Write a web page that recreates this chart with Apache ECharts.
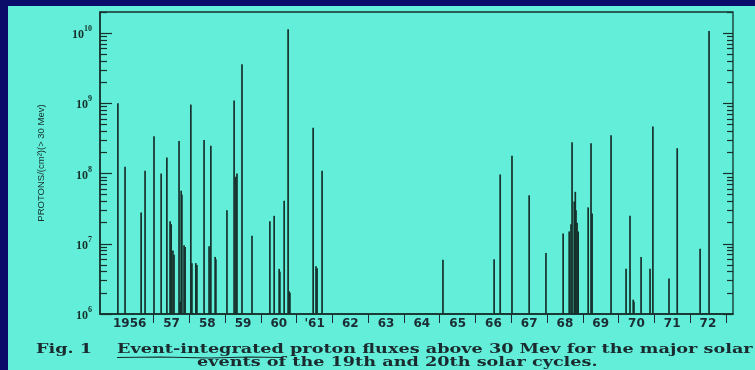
<!DOCTYPE html>
<html>
<head>
<meta charset="utf-8">
<script src="https://cdn.jsdelivr.net/npm/echarts@6/dist/echarts.min.js"></script>
<style>
  html, body { margin: 0; padding: 0; background: #0b0b6a; }
  #chart { width: 755px; height: 370px; }
</style>
</head>
<body>
<div id="chart"></div>
<script>
// Major solar proton events, cycles 19 and 20: date (decimal year) and
// event-integrated proton flux above 30 MeV (protons / cm^2).
const eventYears = [
  1956.00, 1956.20, 1956.65, 1956.76, 1957.01, 1957.21, 1957.37, 1957.46, 1957.49,
  1957.54, 1957.57, 1957.71, 1957.74, 1957.77, 1957.79, 1957.85, 1957.88,
  1958.04, 1958.07, 1958.18, 1958.21, 1958.41, 1958.55, 1958.60, 1958.72, 1958.74,
  1959.05, 1959.25, 1959.30, 1959.33, 1959.47, 1959.75,
  1960.25, 1960.37, 1960.51, 1960.53, 1960.65, 1960.76, 1960.79, 1960.81,
  1961.46, 1961.54, 1961.57, 1961.71,
  1965.09,
  1966.52, 1966.69, 1967.02, 1967.50, 1967.97,
  1968.45, 1968.62, 1968.67, 1968.70, 1968.76, 1968.79, 1968.81, 1968.84, 1968.87,
  1969.15, 1969.23, 1969.26, 1969.79,
  1970.21, 1970.32, 1970.41, 1970.43, 1970.63, 1970.88, 1970.96,
  1971.41, 1971.64, 1972.28, 1972.53
];
const protonFlux = [
  1.0e9, 1.25e8, 2.8e7, 1.1e8, 3.4e8, 1.0e8, 1.7e8, 2.1e7, 1.9e7,
  8.0e6, 7.0e6, 2.9e8, 1.5e6, 5.7e7, 5.0e7, 9.5e6, 9.0e6,
  9.6e8, 5.3e6, 5.3e6, 5.0e6, 3.0e8, 9.2e6, 2.5e8, 6.5e6, 6.0e6,
  3.0e7, 1.1e9, 9.0e7, 1.0e8, 3.6e9, 1.3e7,
  2.1e7, 2.5e7, 4.4e6, 4.0e6, 4.1e7, 1.14e10, 2.1e6, 2.0e6,
  4.5e8, 4.8e6, 4.5e6, 1.1e8,
  5.9e6,
  6.0e6, 9.7e7, 1.8e8, 4.9e7, 7.4e6,
  1.4e7, 1.5e7, 1.9e7, 2.8e8, 4.0e7, 5.5e7, 3.0e7, 2.0e7, 1.5e7,
  3.3e7, 2.7e8, 2.7e7, 3.5e8,
  4.4e6, 2.5e7, 1.6e6, 1.5e6, 6.5e6, 4.4e6, 4.7e8,
  3.2e6, 2.3e8, 8.5e6, 1.07e10
];

// Year axis: labels sit mid-year, a short bar separates consecutive years.
const yearTicks  = [1956, 1957, 1958, 1959, 1960, 1961, 1962, 1963, 1964,
                    1965, 1966, 1967, 1968, 1969, 1970, 1971, 1972];
const yearLabels = ['1956', '57', '58', '59', '60', "'61", '62', '63', '64',
                    '65', '66', '67', '68', '69', '70', '71', '72'];

// Flux axis: decades labelled as powers of ten.
const decadeTicks     = [1e6, 1e7, 1e8, 1e9, 1e10];
const decadeExponents = ['6', '7', '8', '9', '10'];

const FLUX_MIN = 1e6, FLUX_MAX = 2e10;
const YEAR_MIN = 1955.5, YEAR_MAX = 1973.2;

const INK = '#16302b';
const TEXT_INK = '#1a2a2e';
const PANEL = '#62eed9';

// minor log ticks 2..9 within each decade
const minorTicks = [];
decadeTicks.forEach(d => {
  for (let k = 2; k <= 9; k++) if (d * k <= FLUX_MAX) minorTicks.push(d * k);
});

// the wide four-digit first label is pulled left so it clears the first separator
const yearLabelValues = yearTicks.map((y, i) => y + (i === 0 ? 0.33 : 0.5));
const yearSeparators = yearTicks.slice(1).concat([yearTicks[yearTicks.length - 1] + 1]);

function logAxis(position, ticks, tickLen, withLabels) {
  return {
    type: 'log', logBase: 10, min: FLUX_MIN, max: FLUX_MAX, position: position,
    axisLine: { show: withLabels, lineStyle: { color: INK, width: 1.5 } },
    splitLine: { show: false },
    axisTick: { show: true, inside: true, length: tickLen, customValues: ticks,
                lineStyle: { color: INK, width: 1.2 } },
    axisLabel: withLabels && position === 'left' ? {
      show: true, customValues: decadeTicks, margin: 8,
      showMinLabel: true, showMaxLabel: true,
      formatter: v => {
        const i = decadeTicks.findIndex(d => Math.abs(d - v) / d < 1e-6);
        return i < 0 ? '' : '{b|10}{s|' + decadeExponents[i] + '}';
      },
      rich: {
        b: { fontFamily: 'Liberation Serif', fontWeight: 'bold', fontSize: 12, color: INK,
             lineHeight: 16, verticalAlign: 'bottom' },
        s: { fontFamily: 'Liberation Serif', fontWeight: 'bold', fontSize: 8, color: INK,
             lineHeight: 16, verticalAlign: 'top' }
      }
    } : { show: false },
    name: withLabels && position === 'left' ? 'PROTONS/(cm²)(> 30 Mev)' : '',
    nameLocation: 'middle', nameGap: 54, nameRotate: 90,
    nameTextStyle: { fontFamily: 'Liberation Sans', fontSize: 9.5, color: INK }
  };
}

// caption text is set in a wide bold serif
function captionText(left, top, text) {
  return { type: 'text', x: left, y: top, scaleX: 1.47,
           style: { text: text, fontFamily: 'DejaVu Serif', fontWeight: 'bold',
                    fontSize: 12, fill: TEXT_INK } };
}

const chart = echarts.init(document.getElementById('chart'), null, { renderer: 'canvas' });

chart.setOption({
  backgroundColor: '#0b0b6a',
  animation: false,
  graphic: [
    { type: 'rect', z: -10, shape: { x: 8, y: 6, width: 747, height: 364 },
      style: { fill: PANEL } },
    captionText(36, 344, 'Fig. 1'),
    captionText(117, 344, 'Event-integrated proton fluxes above 30 Mev for the major solar'),
    captionText(197, 357, 'events of the 19th and 20th solar cycles.'),
    { type: 'polyline',
      shape: { points: [[117, 357.5], [160, 357], [210, 358], [250, 357], [282, 357.5]] },
      style: { stroke: TEXT_INK, lineWidth: 1.2, fill: null } }
  ],
  grid: { left: 100, right: 22, top: 12, bottom: 56, show: true,
          borderColor: INK, borderWidth: 1.3, backgroundColor: 'transparent' },
  xAxis: {
    type: 'value', min: YEAR_MIN, max: YEAR_MAX,
    splitLine: { show: false },
    axisLine: { show: true, lineStyle: { color: INK, width: 1.5 } },
    axisTick: { show: true, inside: false, length: 9, customValues: yearSeparators,
                lineStyle: { color: '#1c2c34', width: 1 } },
    axisLabel: {
      customValues: yearLabelValues, margin: 4,
      showMinLabel: true, showMaxLabel: true,
      formatter: v => {
        const i = yearLabelValues.findIndex(p => Math.abs(p - v) < 1e-6);
        return i < 0 ? '' : yearLabels[i];
      },
      fontFamily: 'DejaVu Sans', fontWeight: 'bold', fontSize: 12, color: '#1c2c34'
    }
  },
  yAxis: [
    logAxis('left', decadeTicks, 12, true),
    logAxis('left', minorTicks, 7, false),
    logAxis('right', decadeTicks, 10, false),
    logAxis('right', minorTicks, 6, false)
  ],
  series: [{
    type: 'custom',
    yAxisIndex: 0,
    data: eventYears.map((y, i) => [y, protonFlux[i]]),
    renderItem: (params, api) => {
      const base = api.coord([api.value(0), FLUX_MIN]);
      const top = api.coord([api.value(0), api.value(1)]);
      return { type: 'line',
               shape: { x1: base[0], y1: base[1], x2: top[0], y2: top[1] },
               style: { stroke: INK, lineWidth: 1.7 } };
    }
  }]
});
</script>
</body>
</html>
